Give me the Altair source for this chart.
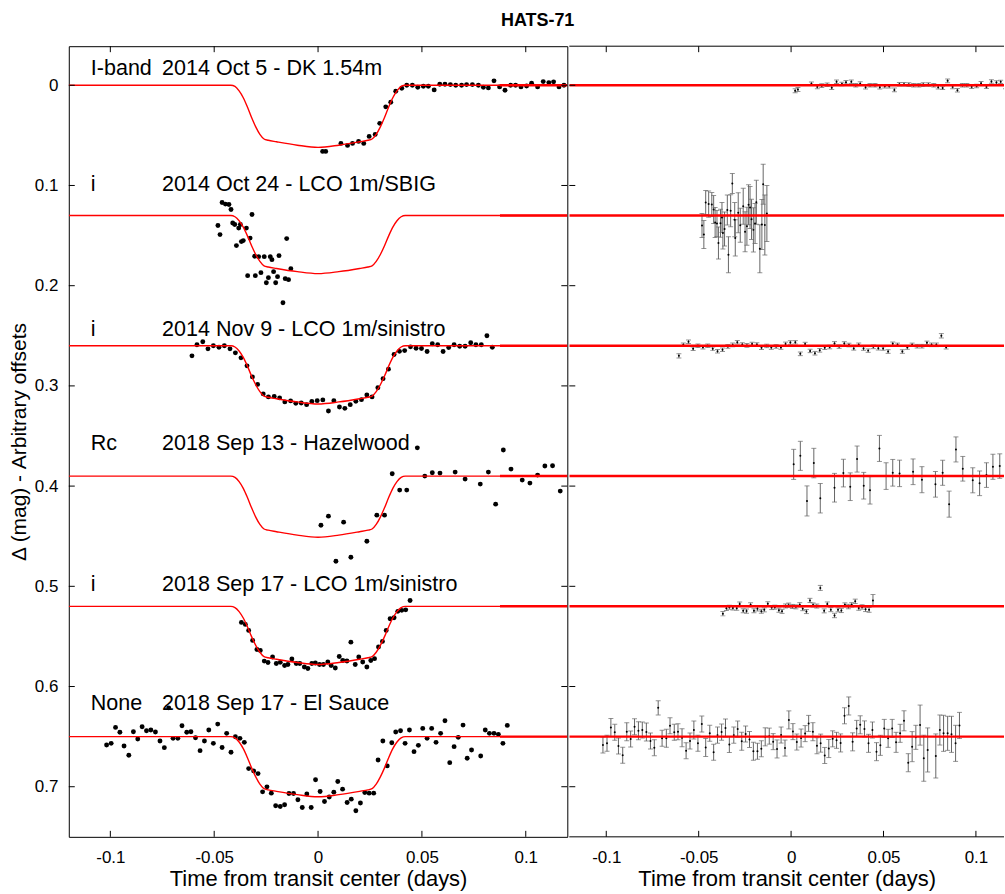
import altair as alt
import pandas as pd

FONT = "Liberation Sans"
TITLE = "HATS-71"
Y_LABEL = "Δ (mag) - Arbitrary offsets"
X_LABEL = "Time from transit center (days)"

BANDS = ["I-band", "i", "i", "Rc", "i", "None"]
OBSERVATIONS = [
    "2014 Oct 5 - DK 1.54m",
    "2014 Oct 24 - LCO 1m/SBIG",
    "2014 Nov 9 - LCO 1m/sinistro",
    "2018 Sep 13 - Hazelwood",
    "2018 Sep 17 - LCO 1m/sinistro",
    "2018 Sep 17 - El Sauce",
]
LABEL_Y = [-0.016, 0.100, 0.244, 0.358, 0.499, 0.617]
BASELINES = [0.0, 0.13, 0.26, 0.39, 0.52, 0.65]

Y_TICKS = [0.0, 0.1, 0.2, 0.3, 0.4, 0.5, 0.6, 0.7]
X_TICKS = [-0.1, -0.05, 0.0, 0.05, 0.1]

# transit models
MODEL_T = [-0.12, -0.042, -0.040, -0.038, -0.036, -0.034, -0.032, -0.030, -0.028, -0.026, -0.024, -0.020, -0.010, 0.0,
           0.010, 0.020, 0.024, 0.026, 0.028, 0.030, 0.032, 0.034, 0.036, 0.038, 0.040, 0.042, 0.12]
MODEL_1 = [0, 0, 0.0012, 0.0056, 0.0124, 0.0217, 0.0322, 0.0415, 0.049, 0.0536, 0.0549, 0.0564, 0.0598, 0.062,
           0.0598, 0.0564, 0.0549, 0.0536, 0.049, 0.0415, 0.0322, 0.0217, 0.0124, 0.0056, 0.0012, 0, 0]
MODEL_2 = [0.13, 0.13, 0.1312, 0.1352, 0.1416, 0.1503, 0.1602, 0.1689, 0.1758, 0.1802, 0.1813, 0.1828, 0.186, 0.188,
           0.186, 0.1828, 0.1813, 0.1802, 0.1758, 0.1689, 0.1602, 0.1503, 0.1416, 0.1352, 0.1312, 0.13, 0.13]
MODEL_3 = [0.26, 0.26, 0.2612, 0.2652, 0.2716, 0.2803, 0.2902, 0.2989, 0.3058, 0.3102, 0.3113, 0.3128, 0.316, 0.318,
           0.316, 0.3128, 0.3113, 0.3102, 0.3058, 0.2989, 0.2902, 0.2803, 0.2716, 0.2652, 0.2612, 0.26, 0.26]
MODEL_4 = [0.39, 0.39, 0.3912, 0.3955, 0.4022, 0.4114, 0.4217, 0.4309, 0.4382, 0.4428, 0.444, 0.4455, 0.4489, 0.451,
           0.4489, 0.4455, 0.444, 0.4428, 0.4382, 0.4309, 0.4217, 0.4114, 0.4022, 0.3955, 0.3912, 0.39, 0.39]
MODEL_5 = [0.52, 0.52, 0.5212, 0.5252, 0.5316, 0.5403, 0.5502, 0.5589, 0.5658, 0.5702, 0.5713, 0.5728, 0.576, 0.578,
           0.576, 0.5728, 0.5713, 0.5702, 0.5658, 0.5589, 0.5502, 0.5403, 0.5316, 0.5252, 0.5212, 0.52, 0.52]
MODEL_6 = [0.65, 0.65, 0.6512, 0.6554, 0.662, 0.671, 0.6812, 0.6902, 0.6974, 0.7019, 0.7031, 0.7046, 0.7079, 0.71,
           0.7079, 0.7046, 0.7031, 0.7019, 0.6974, 0.6902, 0.6812, 0.671, 0.662, 0.6554, 0.6512, 0.65, 0.65]

# left-panel thick segment start (residual line drawn into the light-curve panel)
THICK_START = 0.0876

# 1: 2014 Oct 5 - DK 1.54m
T_1 = [0.0022, 0.0037, 0.011, 0.0142, 0.0166, 0.0195, 0.022, 0.0246, 0.0275, 0.0297, 0.0326, 0.035, 0.0374, 0.0403,
       0.0427, 0.0454, 0.048, 0.0507, 0.0531, 0.0559, 0.0586, 0.0611, 0.0637, 0.0663, 0.0691, 0.0715, 0.0743, 0.0772,
       0.0796, 0.082, 0.0847, 0.0874, 0.09, 0.0927, 0.0951, 0.0977, 0.1004, 0.1028, 0.1057, 0.1084, 0.1111, 0.1134,
       0.116, 0.1184]
V_1 = [0.066, 0.066, 0.058, 0.060, 0.058, 0.056, 0.058, 0.051, 0.049, 0.038, 0.0215, 0.017, 0.006, 0.003,
       0.0, 0.0, 0.002, 0.001, 0.001, 0.0046, -0.001, -0.001, -0.0007, 0.0, 0.0, -0.0007, -0.0007, 0.0,
       0.002, 0.0026, -0.0044, 0.0016, 0.005, 0.0, 0.0, 0.0016, 0.0007, -0.002, 0.0016, -0.0037, -0.0027, -0.0034,
       0.0016, 0.0]
R_1 = [0.0055, 0.0042, -0.0015, 0.0016, 0.0004, -0.0006, 0.0024, -0.0035, -0.0012, -0.003, -0.0035, 0.0, -0.0016,
       0.002, 0.0, 0.0, 0.002, 0.001, 0.001, 0.0046, -0.001, -0.001, -0.0007, 0.0, 0.0, -0.0007, -0.0007, 0.0,
       0.002, 0.0026, -0.0044, 0.0016, 0.005, 0.0, 0.0, 0.0016, 0.0007, -0.002, 0.0016, -0.0037, -0.0027, -0.0034,
       0.0016, 0.0]
E_1 = [0.002, 0.002, 0.0018, 0.0018, 0.0018, 0.0017, 0.0018, 0.0018, 0.0017, 0.0018,
       0.0018, 0.0017, 0.0018, 0.0018, 0.0017, 0.0018, 0.0018, 0.0017, 0.0018, 0.0018,
       0.0017, 0.0018, 0.0018, 0.0017, 0.0018, 0.0018, 0.0017, 0.0018, 0.0018, 0.0017,
       0.0018, 0.0018, 0.0017, 0.0018, 0.0018, 0.0017, 0.0018, 0.0018, 0.0017, 0.0018,
       0.0018, 0.0017, 0.0018, 0.0018]

# 2: 2014 Oct 24 - LCO 1m/SBIG
T_2 = [-0.0482, -0.0472, -0.0462, -0.0446, -0.0429, -0.0419, -0.0411, -0.0401, -0.0393, -0.0382, -0.0374, -0.0369,
       -0.036, -0.0345, -0.0339, -0.0327, -0.0318, -0.0305, -0.0302, -0.0286, -0.0275, -0.0259, -0.0249, -0.0239,
       -0.023, -0.0222, -0.0214, -0.0204, -0.0195, -0.0188, -0.0169, -0.0158, -0.0151, -0.0142, -0.0131]
V_2 = [0.140, 0.149, 0.117, 0.1186, 0.119, 0.124, 0.1375, 0.139, 0.160, 0.1425, 0.139, 0.156,
       0.155, 0.1425, 0.190, 0.1525, 0.129, 0.1706, 0.190, 0.171, 0.187, 0.171, 0.197, 0.192,
       0.171, 0.174, 0.186, 0.197, 0.191, 0.170, 0.217, 0.193, 0.153, 0.194, 0.183]
R_2 = [0.140, 0.149, 0.117, 0.1186, 0.119, 0.124, 0.1369, 0.1379, 0.1574, 0.1377, 0.1319, 0.1473,
       0.1434, 0.1245, 0.1691, 0.1252, 0.098, 0.1341, 0.1523, 0.1272, 0.1397, 0.1208, 0.1462, 0.1406,
       0.1193, 0.122, 0.1338, 0.1443, 0.138, 0.1168, 0.1632, 0.1389, 0.0987, 0.1394, 0.128]
E_2 = [0.012, 0.014, 0.012, 0.013, 0.012, 0.014, 0.015, 0.013, 0.016, 0.014,
       0.015, 0.016, 0.017, 0.015, 0.018, 0.016, 0.01, 0.017, 0.018, 0.02,
       0.017, 0.018, 0.02, 0.019, 0.02, 0.021, 0.02, 0.022, 0.02, 0.022,
       0.024, 0.025, 0.02, 0.03, 0.028]

# 3: 2014 Nov 9 - LCO 1m/sinistro
T_3 = [-0.0607, -0.0583, -0.0555, -0.053, -0.0504, -0.0477, -0.0451, -0.0424, -0.0398, -0.0371,
       -0.0342, -0.0316, -0.0291, -0.0264, -0.0239, -0.0211, -0.0185, -0.016, -0.0132, -0.0107,
       -0.0081, -0.0055, -0.003, -0.0004, 0.0023, 0.005, 0.0076, 0.0103, 0.0129, 0.0155,
       0.0182, 0.0209, 0.0235, 0.026, 0.0288, 0.0313, 0.0339, 0.0366, 0.0392, 0.0417,
       0.0445, 0.0472, 0.0498, 0.0525, 0.055, 0.0576, 0.0602, 0.0629, 0.0655, 0.0682,
       0.0708, 0.0735, 0.076, 0.0786, 0.0813, 0.0839]
V_3 = [0.270, 0.259, 0.256, 0.263, 0.260, 0.2614, 0.260, 0.263, 0.267, 0.272,
       0.280, 0.291, 0.2985, 0.308, 0.311, 0.3105, 0.312, 0.316, 0.315, 0.3174,
       0.317, 0.3187, 0.3155, 0.3147, 0.314, 0.325, 0.3147, 0.321, 0.3224, 0.3187,
       0.3154, 0.3137, 0.309, 0.311, 0.3018, 0.2928, 0.2833, 0.2687, 0.2655, 0.2648,
       0.261, 0.2624, 0.2627, 0.2657, 0.258, 0.259, 0.2657, 0.2617, 0.259, 0.2604,
       0.2604, 0.257, 0.259, 0.259, 0.250, 0.2614]
R_3 = [0.270, 0.259, 0.256, 0.263, 0.260, 0.2614, 0.260, 0.263, 0.2654, 0.2639,
       0.2606, 0.2591, 0.2565, 0.2587, 0.2596, 0.2581, 0.2588, 0.2619, 0.2601, 0.2617,
       0.2606, 0.2618, 0.2581, 0.2567, 0.2565, 0.268, 0.2583, 0.2651, 0.2674, 0.2645,
       0.262, 0.2612, 0.2576, 0.2608, 0.2577, 0.2592, 0.2626, 0.259, 0.2627, 0.2648,
       0.261, 0.2624, 0.2627, 0.2657, 0.258, 0.259, 0.2657, 0.2617, 0.259, 0.2604,
       0.2604, 0.257, 0.259, 0.259, 0.250, 0.2614]
E_3 = [0.0022, 0.0018, 0.0018, 0.0017, 0.0018, 0.0018, 0.0017, 0.0018, 0.0018, 0.0017,
       0.0018, 0.0018, 0.0017, 0.0018, 0.0018, 0.0017, 0.0018, 0.0018, 0.0017, 0.0018,
       0.0018, 0.0017, 0.0018, 0.0018, 0.0017, 0.0018, 0.0018, 0.0017, 0.0018, 0.0018,
       0.0017, 0.0018, 0.0018, 0.0017, 0.0018, 0.0018, 0.0017, 0.0018, 0.0018, 0.0017,
       0.0018, 0.0018, 0.0017, 0.0018, 0.0018, 0.0017, 0.0018, 0.0018, 0.0017, 0.0018,
       0.0018, 0.0017, 0.0018, 0.0018, 0.0022, 0.0018]

# 4: 2018 Sep 13 - Hazelwood
T_4 = [0.0014, 0.005, 0.0086, 0.0123, 0.0158, 0.0235, 0.0283, 0.032, 0.0357, 0.0393, 0.0427, 0.0478, 0.0514, 0.055,
       0.0587, 0.066, 0.0708, 0.0781, 0.082, 0.0855, 0.0892, 0.0929, 0.0983, 0.102, 0.1057, 0.1092, 0.1129, 0.1166]
V_4 = [0.439, 0.430, 0.475, 0.436, 0.471, 0.455, 0.429, 0.429, 0.3877, 0.404, 0.404, 0.3618, 0.390, 0.3867,
       0.387, 0.386, 0.393, 0.398, 0.386, 0.418, 0.364, 0.383, 0.394, 0.397, 0.389, 0.380, 0.3797, 0.405]
R_4 = [0.3783, 0.3698, 0.4148, 0.377, 0.4121, 0.4016, 0.387, 0.4006, 0.373, 0.3996, 0.4042, 0.3624, 0.39, 0.3867,
       0.3873, 0.3857, 0.3936, 0.3982, 0.3867, 0.418, 0.3634, 0.3827, 0.3942, 0.3972, 0.389, 0.3807, 0.38, 0.405]
E_4 = [0.015, 0.0145, 0.015, 0.0147, 0.0147, 0.0143, 0.0138, 0.0138, 0.013, 0.0133,
       0.0137, 0.013, 0.0133, 0.0133, 0.0132, 0.0128, 0.013, 0.0128, 0.0125, 0.013,
       0.0125, 0.0123, 0.0125, 0.0123, 0.0123, 0.0125, 0.0122, 0.0122]

# 5: 2018 Sep 17 - LCO 1m/sinistro
T_5 = [-0.0369, -0.035, -0.0334, -0.0315, -0.0294, -0.0278, -0.0259, -0.0241, -0.0219, -0.0201,
       -0.0182, -0.0161, -0.0145, -0.0126, -0.0105, -0.0088, -0.0066, -0.0049, -0.003, -0.0013,
       0.0007, 0.0026, 0.0047, 0.0063, 0.0083, 0.0102, 0.0119, 0.0139, 0.0158, 0.0179,
       0.0196, 0.0215, 0.0235, 0.0254, 0.0272, 0.0291, 0.031, 0.0328, 0.0347, 0.0366,
       0.0384, 0.0403, 0.0422, 0.0443]
V_5 = [0.536, 0.538, 0.544, 0.554, 0.563, 0.564, 0.5746, 0.576, 0.5706, 0.577,
       0.5759, 0.579, 0.578, 0.5726, 0.577, 0.577, 0.5805, 0.582, 0.577, 0.5765,
       0.578, 0.578, 0.5755, 0.579, 0.5815, 0.570, 0.574, 0.5745, 0.5557, 0.578,
       0.5706, 0.5755, 0.5805, 0.574, 0.5722, 0.5606, 0.555, 0.544, 0.5324, 0.5314,
       0.525, 0.524, 0.5235, 0.5142]
R_5 = [0.5273, 0.522, 0.5208, 0.5217, 0.5218, 0.5176, 0.5244, 0.5247, 0.5185, 0.5243,
       0.5225, 0.525, 0.5235, 0.5175, 0.5212, 0.5208, 0.5238, 0.525, 0.5196, 0.5188,
       0.5201, 0.5205, 0.5184, 0.5223, 0.5252, 0.5141, 0.5186, 0.5197, 0.5016, 0.5245,
       0.5177, 0.5233, 0.5291, 0.5235, 0.5241, 0.5185, 0.5202, 0.5185, 0.515, 0.5217,
       0.5206, 0.523, 0.5235, 0.5142]
E_5 = [0.0022, 0.0022, 0.002, 0.002, 0.0021, 0.002, 0.002, 0.0021, 0.002, 0.002,
       0.0021, 0.002, 0.002, 0.0021, 0.002, 0.002, 0.0021, 0.002, 0.002, 0.0021,
       0.002, 0.002, 0.0021, 0.002, 0.002, 0.0021, 0.002, 0.002, 0.0025, 0.002,
       0.0021, 0.002, 0.0022, 0.002, 0.0021, 0.002, 0.0022, 0.0022, 0.0022, 0.0022,
       0.0022, 0.0022, 0.0024, 0.006]

# 6: 2018 Sep 17 - El Sauce
T_6 = [-0.1018, -0.0996, -0.0975, -0.0954, -0.0934, -0.0911, -0.0889, -0.0868, -0.0847, -0.0826,
       -0.0805, -0.0783, -0.0761, -0.074, -0.0719, -0.0698, -0.0675, -0.0655, -0.0632, -0.0612,
       -0.059, -0.0568, -0.0547, -0.0526, -0.0504, -0.0483, -0.0462, -0.044, -0.0419, -0.0398,
       -0.0376, -0.0355, -0.0334, -0.031, -0.0289, -0.0267, -0.0246, -0.0225, -0.0204, -0.0182,
       -0.0161, -0.014, -0.0118, -0.0097, -0.0076, -0.0054, -0.0033, -0.0012, 0.001, 0.0031,
       0.0054, 0.0076, 0.0095, 0.0118, 0.014, 0.016, 0.0182, 0.0204, 0.0225, 0.0246,
       0.0268, 0.0289, 0.0312, 0.0333, 0.0355, 0.0374, 0.0397, 0.0419, 0.044, 0.0462,
       0.0483, 0.0504, 0.0525, 0.0547, 0.0568, 0.059, 0.0611, 0.0634, 0.0655, 0.0675,
       0.0698, 0.0718, 0.0739, 0.0783, 0.0805, 0.0825, 0.0847, 0.0868, 0.089, 0.0911]
V_6 = [0.6583, 0.6567, 0.6408, 0.6457, 0.6594, 0.6686, 0.6451, 0.6524, 0.6402, 0.6441,
       0.6434, 0.6454, 0.6544, 0.661, 0.6213, 0.6517, 0.6517, 0.6392, 0.6457, 0.6451,
       0.6511, 0.664, 0.6544, 0.6434, 0.6567, 0.6375, 0.6608, 0.6467, 0.6656, 0.6501,
       0.6517, 0.6557, 0.6819, 0.6842, 0.6869, 0.7051, 0.7001, 0.7064, 0.719, 0.7197,
       0.718, 0.7068, 0.7068, 0.713, 0.7207, 0.7073, 0.7207, 0.6931, 0.7048, 0.7147,
       0.7103, 0.7054, 0.6948, 0.7024, 0.7157, 0.7124, 0.724, 0.7163, 0.7058, 0.7064,
       0.7064, 0.6733, 0.6544, 0.6792, 0.6561, 0.6454, 0.6441, 0.6567, 0.6434, 0.665,
       0.6587, 0.6418, 0.6517, 0.6418, 0.6557, 0.6467, 0.6342, 0.676, 0.66, 0.6507,
       0.6385, 0.6716, 0.6633, 0.6693, 0.6434, 0.6467, 0.6467, 0.6477, 0.6567, 0.6388]
R_6 = [0.6583, 0.6567, 0.6408, 0.6457, 0.6594, 0.6686, 0.6451, 0.6524, 0.6402, 0.6441,
       0.6434, 0.6454, 0.6544, 0.661, 0.6213, 0.6517, 0.6517, 0.6392, 0.6457, 0.6451,
       0.6511, 0.664, 0.6544, 0.6434, 0.6567, 0.6375, 0.6608, 0.6467, 0.6656, 0.6485,
       0.6455, 0.6414, 0.6579, 0.6485, 0.6425, 0.6547, 0.6474, 0.6528, 0.6646, 0.6645,
       0.6621, 0.6502, 0.6495, 0.655, 0.6623, 0.6484, 0.6614, 0.6333, 0.645, 0.6554,
       0.6514, 0.647, 0.6368, 0.6451, 0.6591, 0.6565, 0.6688, 0.6619, 0.6522, 0.6537,
       0.6563, 0.6292, 0.6194, 0.6552, 0.6418, 0.6382, 0.6423, 0.6567, 0.6434, 0.665,
       0.6587, 0.6418, 0.6517, 0.6418, 0.6557, 0.6467, 0.6342, 0.676, 0.66, 0.6507,
       0.6385, 0.6716, 0.6633, 0.6693, 0.6434, 0.6467, 0.6467, 0.6477, 0.6567, 0.6388]
E_6 = [0.008, 0.008, 0.009, 0.008, 0.008, 0.008, 0.009, 0.008, 0.008, 0.009,
       0.008, 0.009, 0.008, 0.008, 0.007, 0.008, 0.009, 0.008, 0.008, 0.008,
       0.009, 0.008, 0.008, 0.009, 0.008, 0.008, 0.009, 0.008, 0.008, 0.008,
       0.008, 0.009, 0.008, 0.008, 0.008, 0.009, 0.008, 0.008, 0.009, 0.008,
       0.008, 0.009, 0.008, 0.008, 0.009, 0.008, 0.008, 0.009, 0.008, 0.008,
       0.009, 0.008, 0.008, 0.009, 0.008, 0.009, 0.008, 0.009, 0.008, 0.008,
       0.009, 0.008, 0.009, 0.009, 0.008, 0.009, 0.008, 0.009, 0.008, 0.009,
       0.01, 0.009, 0.009, 0.009, 0.01, 0.009, 0.01, 0.009, 0.015, 0.012,
       0.02, 0.023, 0.022, 0.022, 0.015, 0.018, 0.017, 0.018, 0.018, 0.013]

MODELS = [MODEL_1, MODEL_2, MODEL_3, MODEL_4, MODEL_5, MODEL_6]
SETS = [(T_1, V_1, R_1, E_1), (T_2, V_2, R_2, E_2), (T_3, V_3, R_3, E_3),
        (T_4, V_4, R_4, E_4), (T_5, V_5, R_5, E_5), (T_6, V_6, R_6, E_6)]

# ---------------- tables ----------------
model_rows, pt_rows, res_rows = [], [], []
for i, m in enumerate(MODELS):
    for t, v in zip(MODEL_T, m):
        model_rows.append({"set": i, "t": t, "v": v})
for i, (ts, vs, rs, es) in enumerate(SETS):
    for t, v in zip(ts, vs):
        pt_rows.append({"set": i, "t": t, "v": v})
    for t, r, e in zip(ts, rs, es):
        res_rows.append({"set": i, "t": t, "r": r, "lo": r - e, "hi": r + e})
model_df = pd.DataFrame(model_rows)
pts_df = pd.DataFrame(pt_rows)
res_df = pd.DataFrame(res_rows)
base_df = pd.DataFrame({"b": BASELINES, "t0": [-0.12] * 6, "t1": [0.12] * 6,
                        "ts": [THICK_START] * 6})
band_x, obs_x = -0.1094, -0.0751
label_df = pd.DataFrame({
    "x": [band_x] * 6 + [obs_x] * 6,
    "y": LABEL_Y + LABEL_Y,
    "text": BANDS + OBSERVATIONS,
})
ytick_df = pd.DataFrame({"v": Y_TICKS})
xtick_df = pd.DataFrame({"t": X_TICKS})
one_df = pd.DataFrame({"k": [0]})

# ---------------- scales / axes ----------------
W1, W2, H = 500, 436, 793
TK = 6
yscale = alt.Scale(domain=[-0.039, 0.75], reverse=True, nice=False, zero=False)
x1scale = alt.Scale(domain=[-0.12, 0.12], nice=False, zero=False)
x2scale = alt.Scale(domain=[-0.12, 0.1152], nice=False, zero=False)

LBL = "replace(datum.label, '\u2212', '-')"
xaxis = alt.Axis(values=X_TICKS, title=X_LABEL, format="~g", labelExpr=LBL, ticks=False, tickSize=0,
                 domain=False, grid=False, labelFontSize=17, labelPadding=13, titleFontSize=22,
                 titlePadding=3, labelColor="black", titleColor="black", titleFontWeight="normal",
                 labelFlush=False, labelOverlap=False, labelFont=FONT, titleFont=FONT)
yaxis = alt.Axis(values=Y_TICKS, title=Y_LABEL, format="~g", ticks=False, tickSize=0, domain=False,
                 grid=False, labelFontSize=17, labelPadding=11, titleFontSize=21, titlePadding=4,
                 minExtent=35, maxExtent=35, labelColor="black", titleColor="black",
                 titleFontWeight="normal", labelFont=FONT, titleFont=FONT)

X1 = lambda f: alt.X(f, scale=x1scale, axis=xaxis)
Y1 = lambda f: alt.Y(f, scale=yscale, axis=yaxis)
X2 = lambda f: alt.X(f, scale=x2scale, axis=xaxis)
Y2 = lambda f: alt.Y(f, scale=yscale, axis=None)

# ---------------- left panel ----------------
l_points = alt.Chart(pts_df).mark_circle(size=24, color="black", opacity=1).encode(x=X1("t:Q"), y=Y1("v:Q"))
l_model = alt.Chart(model_df).mark_line(color="#ff0000", strokeWidth=1.4, interpolate="monotone",
                                        clip=True).encode(x=X1("t:Q"), y=Y1("v:Q"), detail="set:N")
l_thick = alt.Chart(base_df).mark_rule(color="#ff0000", strokeWidth=2.5, clip=True).encode(
    x=X1("ts:Q"), x2="t1:Q", y=Y1("b:Q"))
l_text = alt.Chart(label_df).mark_text(align="left", baseline="middle", fontSize=21.6, font=FONT,
                                       color="black").encode(x=X1("x:Q"), y=Y1("y:Q"), text="text:N")
l_yt1 = alt.Chart(ytick_df).mark_rule(color="black").encode(y=Y1("v:Q"), x=alt.value(0), x2=alt.value(TK))
l_yt2 = alt.Chart(ytick_df).mark_rule(color="black").encode(y=Y1("v:Q"), x=alt.value(W1 - TK), x2=alt.value(W1))
l_xt1 = alt.Chart(xtick_df).mark_rule(color="black").encode(x=X1("t:Q"), y=alt.value(H - TK), y2=alt.value(H))
l_xt2 = alt.Chart(xtick_df).mark_rule(color="black").encode(x=X1("t:Q"), y=alt.value(0), y2=alt.value(TK))

left = alt.layer(l_points, l_model, l_thick, l_text, l_yt1, l_yt2, l_xt1, l_xt2).properties(width=W1, height=H)

# ---------------- right panel ----------------
r_bars = alt.Chart(res_df).mark_rule(color="#666666", strokeWidth=1, clip=True).encode(
    x=X2("t:Q"), y=Y2("lo:Q"), y2="hi:Q")
r_cap1 = alt.Chart(res_df).mark_tick(color="#666666", orient="horizontal", size=5, thickness=1,
                                     clip=True).encode(x=X2("t:Q"), y=Y2("lo:Q"))
r_cap2 = alt.Chart(res_df).mark_tick(color="#666666", orient="horizontal", size=5, thickness=1,
                                     clip=True).encode(x=X2("t:Q"), y=Y2("hi:Q"))
r_dots = alt.Chart(res_df).mark_circle(size=4, color="black", opacity=1, clip=True).encode(
    x=X2("t:Q"), y=Y2("r:Q"))
r_base = alt.Chart(base_df).mark_rule(color="#ff0000", strokeWidth=2.5, clip=True).encode(
    x=X2("t0:Q"), x2="t1:Q", y=Y2("b:Q"))
r_yt = alt.Chart(ytick_df).mark_rule(color="black").encode(y=Y2("v:Q"), x=alt.value(0), x2=alt.value(TK))
r_xt1 = alt.Chart(xtick_df).mark_rule(color="black").encode(x=X2("t:Q"), y=alt.value(H - TK), y2=alt.value(H))
r_xt2 = alt.Chart(xtick_df).mark_rule(color="black").encode(x=X2("t:Q"), y=alt.value(0), y2=alt.value(TK))
r_top = alt.Chart(one_df).mark_rule(color="black").encode(x=alt.value(0), x2=alt.value(W2), y=alt.value(0))
r_bot = alt.Chart(one_df).mark_rule(color="black").encode(x=alt.value(0), x2=alt.value(W2), y=alt.value(H))

right = alt.layer(r_bars, r_cap1, r_cap2, r_dots, r_base, r_yt, r_xt1, r_xt2, r_top, r_bot).properties(
    width=W2, height=H, view=alt.ViewBackground(stroke="transparent"))

chart = alt.hconcat(left, right, spacing=0).properties(
    title=alt.TitleParams(TITLE, fontSize=18, fontWeight="bold", font=FONT, anchor="middle", offset=15,
                          dx=31, color="black"),
    padding={"left": 8, "top": 11, "right": 0, "bottom": 0},
).configure(font=FONT, background="white").configure_view(stroke="black", strokeWidth=1)

chart.save("out.html", embed_options={"renderer": "svg", "actions": False})
